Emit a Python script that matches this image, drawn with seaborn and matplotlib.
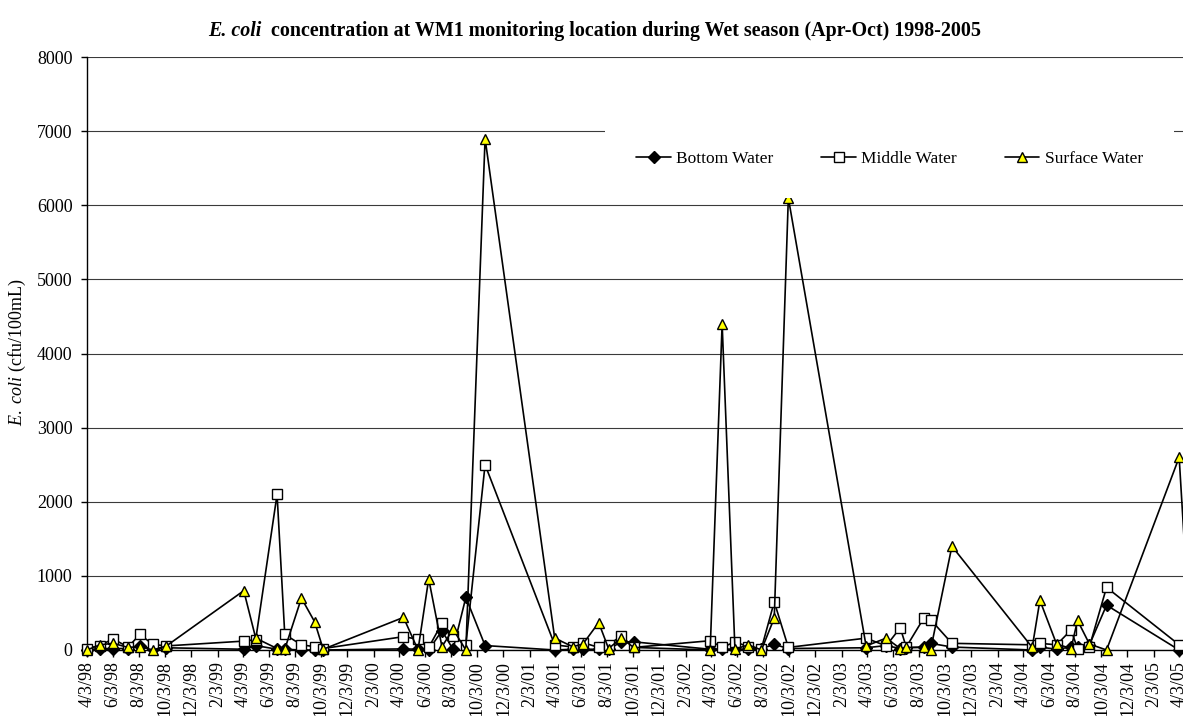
import matplotlib
matplotlib.use("Agg")
import matplotlib.pyplot as plt
import matplotlib.dates as mdates
from matplotlib.ticker import FuncFormatter
import pandas as pd
import seaborn as sns

# ---------------- data ----------------
sample_dates = [
    "1998-04-03", "1998-05-03", "1998-06-03", "1998-07-08", "1998-08-05", "1998-09-04", "1998-10-06",
    "1999-04-05", "1999-05-03", "1999-06-22", "1999-07-10", "1999-08-18", "1999-09-18", "1999-10-08",
    "2000-04-13", "2000-05-17", "2000-06-11", "2000-07-12", "2000-08-07", "2000-09-06", "2000-10-21",
    "2001-04-02", "2001-05-14", "2001-06-07", "2001-07-14", "2001-08-06", "2001-09-05", "2001-10-04",
    "2002-04-01", "2002-04-29", "2002-05-29", "2002-06-29", "2002-07-30", "2002-08-29", "2002-10-01",
    "2003-04-01", "2003-05-18", "2003-06-20", "2003-07-04", "2003-08-14", "2003-08-30", "2003-10-19",
    "2004-04-24", "2004-05-12", "2004-06-20", "2004-07-24", "2004-08-08", "2004-09-05", "2004-10-15",
    "2005-04-03", "2005-04-30",
]
bottom_water = [
    0, 20, 20, 20, 50, 20, 30,
    10, 60, 10, 10, 0, 0, 0,
    15, 10, 0, 260, 10, 710, 60,
    0, 10, 10, 10, 10, 110, 110,
    10, 10, 10, 10, 20, 75, 20,
    30, 60, 20, 30, 40, 90, 40,
    0, 40, 10, 40, 40, 70, 605,
    0, 10,
]
middle_water = [
    20, 60, 150, 40, 210, 75, 55,
    120, 140, 2100, 210, 70, 45, 20,
    180, 145, 35, 360, 190, 70, 2500,
    70, 40, 100, 35, 70, 190, 35,
    125, 35, 110, 45, 20, 650, 35,
    160, 55, 300, 40, 430, 410, 90,
    70, 90, 70, 270, 20, 45, 845,
    70, 40,
]
surface_water = [
    0, 70, 90, 35, 45, 0, 55,
    800, 160, 20, 10, 700, 380, 10,
    440, 0, 960, 45, 280, 0, 6900,
    160, 45, 80, 370, 20, 160, 35,
    0, 4400, 10, 70, 0, 430, 6100,
    55, 160, 20, 35, 35, 0, 1400,
    35, 670, 80, 20, 400, 80, 0,
    2600, 20,
]
series_names = ["Bottom Water", "Middle Water", "Surface Water"]
y_ticks = [0, 1000, 2000, 3000, 4000, 5000, 6000, 7000, 8000]

# ---------------- style ----------------
sns.set_style("white")
plt.rcParams["font.family"] = ["Liberation Serif", "DejaVu Serif"]
plt.rcParams["mathtext.fontset"] = "custom"
plt.rcParams["mathtext.rm"] = "Liberation Serif"
plt.rcParams["mathtext.it"] = "Liberation Serif:italic"
for key in ["text.color", "axes.labelcolor", "xtick.color", "ytick.color", "axes.edgecolor"]:
    plt.rcParams[key] = "black"

W, H = 1183, 716
fig = plt.figure(figsize=(W / 100, H / 100), dpi=100)
ax = fig.add_axes([87 / W, (H - 650) / H, (W - 87) / W, (650 - 57) / H])

dates = pd.to_datetime(sample_dates)

styles = [
    dict(marker="D", markersize=5.8, markerfacecolor="black"),
    dict(marker="s", markersize=6.8, markerfacecolor="white"),
    dict(marker="^", markersize=7.2, markerfacecolor="#FFFF00"),
]
for name, vals, st, z in zip(series_names, [bottom_water, middle_water, surface_water], styles, [3, 4, 5]):
    sns.lineplot(x=dates, y=vals, ax=ax, color="black", linewidth=1.2,
                 markeredgecolor="black", markeredgewidth=1.0, label=name,
                 estimator=None, sort=False, clip_on=False, zorder=z, **st)

# axes
ax.set_xlim(pd.Timestamp("1998-04-03"), pd.Timestamp("2005-04-12"))
ax.set_ylim(0, 8000)
ax.set_yticks(y_ticks)
ax.yaxis.set_major_formatter(FuncFormatter(lambda v, p: f"{int(v)}"))
ax.xaxis.set_major_locator(mdates.MonthLocator(bymonth=[2, 4, 6, 8, 10, 12], bymonthday=3))


def fmt_date(v, p):
    d = mdates.num2date(v)
    return f"{d.month}/{d.day}/{d.strftime('%y')}"


ax.xaxis.set_major_formatter(FuncFormatter(fmt_date))
ax.tick_params(axis="x", which="major", direction="out", length=5, width=1.0,
               color="black", labelcolor="black", labelsize=13, rotation=90, pad=3, bottom=True)
ax.tick_params(axis="y", which="major", direction="out", length=4.5, width=1.0,
               color="black", labelcolor="black", labelsize=13, pad=6, left=True)
for lbl in ax.get_xticklabels():
    lbl.set_verticalalignment("top")

ax.grid(axis="y", color="#3a3a3a", linewidth=0.8)
ax.grid(axis="x", visible=False)
for s in ["top", "right"]:
    ax.spines[s].set_visible(False)
for s in ["left", "bottom"]:
    ax.spines[s].set_color("black")
    ax.spines[s].set_linewidth(1.0)
ax.set_xlabel("")
ax.set_ylabel("")

# legend (white box covering gridline)
handles, labels = ax.get_legend_handles_labels()
leg = ax.legend(handles, labels, ncol=3, loc="center", mode="expand",
                bbox_to_anchor=(605 / W, 1 - 200 / H, (1174 - 605) / W, 82 / H),
                bbox_transform=fig.transFigure, borderaxespad=0, borderpad=1.8,
                fontsize=12.5, handlelength=2.0, handletextpad=0.3,
                frameon=True, fancybox=False, framealpha=1.0, labelcolor="black")
leg.get_frame().set_facecolor("white")
leg.get_frame().set_edgecolor("white")
leg.get_frame().set_linewidth(0)
leg.set_zorder(10)

# y label
fig.text(17 / W, 1 - 352.5 / H, r"$\mathit{E.\ coli}$ (cfu/100mL)", rotation=90,
         ha="center", va="center", fontsize=13, color="black")

# title: bold italic "E. coli" + bold rest
title_y = 1 - 36 / H
t1 = fig.text(208 / W, title_y, "E. coli", fontsize=14.4, fontweight="bold",
              fontstyle="italic", ha="left", va="baseline", color="black")
fig.canvas.draw()
bb = t1.get_window_extent(renderer=fig.canvas.get_renderer())
fig.text(bb.x1 / W, title_y,
         "  concentration at WM1 monitoring location during Wet season (Apr-Oct) 1998-2005",
         fontsize=14.4, fontweight="bold", ha="left", va="baseline", color="black")

fig.savefig("out.png", dpi=100)
